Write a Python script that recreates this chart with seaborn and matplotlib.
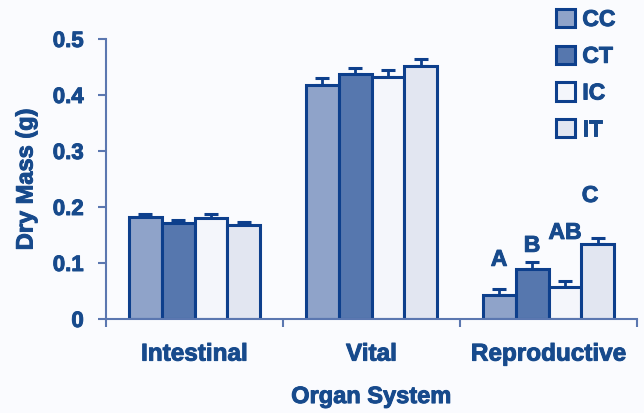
import matplotlib
matplotlib.use("Agg")
import matplotlib.pyplot as plt
import matplotlib.patheffects as pe
from matplotlib.patches import Patch
from matplotlib.container import BarContainer
import numpy as np
import pandas as pd
import seaborn as sns

# Dry mass (g) per organ system for each treatment group
organs = ["Intestinal", "Vital", "Reproductive"]
groups = ["CC", "CT", "IC", "IT"]
mass_cc = [0.182, 0.418, 0.042]
mass_ct = [0.171, 0.437, 0.090]
mass_ic = [0.181, 0.433, 0.058]
mass_it = [0.168, 0.452, 0.134]
err_cc = [0.006, 0.013, 0.011]
err_ct = [0.006, 0.012, 0.011]
err_ic = [0.006, 0.012, 0.010]
err_it = [0.006, 0.012, 0.011]
repro_letters = ["A", "B", "AB", "C"]
y_ticks = [0, 0.1, 0.2, 0.3, 0.4, 0.5]
y_tick_labels = ["0", "0.1", "0.2", "0.3", "0.4", "0.5"]

values = [mass_cc, mass_ct, mass_ic, mass_it]
errors = [err_cc, err_ct, err_ic, err_it]

df = pd.DataFrame(
    [(o, g, values[gi][oi]) for gi, g in enumerate(groups) for oi, o in enumerate(organs)],
    columns=["organ", "group", "mass"],
)

navy = "#0D3F8C"
text_col = "#174A8C"
spine_col = "#5B77B0"
bg = "#FAFBFE"
palette = {"CC": "#8FA3C9", "CT": "#5677AE", "IC": "#F4F6FB", "IT": "#E2E6F1"}

sns.set_style("white")
plt.rcParams["font.family"] = ["Liberation Sans", "DejaVu Sans"]
plt.rcParams["font.weight"] = "bold"

# slight stroke to give the heavy look of the lettering
heavy = [pe.withStroke(linewidth=0.7, foreground=text_col)]

fig = plt.figure(figsize=(6.44, 4.14), dpi=100, facecolor=bg)
ax = fig.add_axes([106 / 644, 1 - 320 / 414, (637 - 106) / 644, 280 / 414])
ax.set_facecolor(bg)

sns.barplot(
    data=df, x="organ", y="mass", hue="group", order=organs, hue_order=groups,
    palette=palette, saturation=1, edgecolor=navy, linewidth=2.2, width=0.745,
    errorbar=None, legend=False, ax=ax, zorder=2,
)
bar_groups = [c for c in ax.containers if isinstance(c, BarContainer)]

# Upper-only error bars at each bar centre
for gi, cont in enumerate(bar_groups):
    xs = [p.get_x() + p.get_width() / 2 for p in cont.patches]
    ys = [p.get_height() for p in cont.patches]
    ax.errorbar(
        xs, ys, yerr=[np.zeros(len(ys)), errors[gi]], fmt="none",
        ecolor=navy, elinewidth=2.0, capsize=4.8, capthick=2.2, zorder=1,
    )

# Significance letters over the reproductive bars
repro_bars = [c.patches[2] for c in bar_groups]
letter_y = [0.095, 0.120, 0.143, 0.209]
letter_dx = [0, 0, 0, -0.045]
for p, lab, ly, dx in zip(repro_bars, repro_letters, letter_y, letter_dx):
    ax.text(p.get_x() + p.get_width() / 2 + dx, ly, lab, ha="center", va="baseline",
            fontsize=16.5, fontweight="bold", color=text_col, path_effects=heavy)

ax.set_xlim(-0.5, 2.5)
ax.set_ylim(0, 0.5)
ax.set_yticks(y_ticks)
ax.set_yticklabels(y_tick_labels)
ax.set_xticks([-0.5, 0.5, 1.5, 2.5])
ax.set_xticklabels([])
ax.set_xticks([0, 1, 2], minor=True)
ax.set_xticklabels(organs, minor=True)
ax.tick_params(axis="x", which="major", direction="out", length=6, width=1.5,
               color=spine_col, bottom=True)
ax.tick_params(axis="x", which="minor", length=0, pad=17, labelsize=17.5,
               labelcolor=text_col)
ax.tick_params(axis="y", direction="out", length=6, width=1.5, color=spine_col,
               left=True, pad=10, labelsize=16, labelcolor=text_col)
for lbl in ax.get_xticklabels(minor=True) + ax.get_yticklabels():
    lbl.set_fontweight("bold")
    lbl.set_path_effects(heavy)

sns.despine(ax=ax)
for s in ["left", "bottom"]:
    ax.spines[s].set_color(spine_col)
    ax.spines[s].set_linewidth(1.5)

ax.set_xlabel("Organ System", fontsize=17, fontweight="bold", color=text_col,
              labelpad=14, path_effects=heavy)
ax.set_ylabel("Dry Mass (g)", fontsize=17, fontweight="bold", color=text_col,
              labelpad=11, path_effects=heavy)

handles = [Patch(facecolor=palette[g], edgecolor=navy, linewidth=2.2) for g in groups]
leg = fig.legend(
    handles, groups, loc="upper left", bbox_to_anchor=(556 / 644, 1 - 9 / 414),
    frameon=False, handlelength=0.85, handleheight=0.85, handletextpad=0.3,
    labelspacing=0.6, borderpad=0, borderaxespad=0,
    labelcolor=text_col, prop={"weight": "bold", "size": 16.5},
)
for t in leg.get_texts():
    t.set_path_effects(heavy)

fig.savefig("out.png", dpi=100, facecolor=bg)
